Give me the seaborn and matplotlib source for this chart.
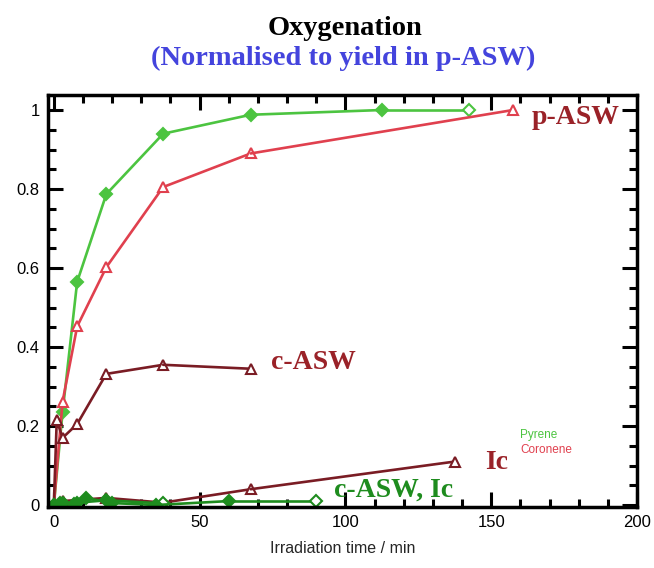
import numpy as np
import pandas as pd
import matplotlib
matplotlib.use("Agg")
import matplotlib.pyplot as plt
from matplotlib.ticker import MultipleLocator
import seaborn as sns

# data
pyr_p_x = [0, 3, 8, 18, 37.5, 67.5, 112.5, 142.5]
pyr_p_y = [0, 0.235, 0.565, 0.787, 0.94, 0.988, 1.0, 1.0]

cor_p_x = [0, 3, 8, 18, 37.5, 67.5, 157.5]
cor_p_y = [0, 0.262, 0.452, 0.602, 0.805, 0.89, 1.0]

cor_c_x = [0, 1, 3, 8, 18, 37.5, 67.5]
cor_c_y = [0, 0.215, 0.17, 0.205, 0.332, 0.355, 0.345]

cor_ic_x = [0, 3, 18, 37.5, 67.5, 137.5]
cor_ic_y = [0, 0.01, 0.018, 0.006, 0.04, 0.11]

pyr_c_x = [0, 3, 7, 11, 20, 35, 60, 90]
pyr_c_y = [0, 0.005, 0.003, 0.018, 0.005, 0.0, 0.01, 0.01]

pyr_ic_x = [0, 2, 8, 18, 37.5]
pyr_ic_y = [0, 0.004, 0.006, 0.012, 0.004]

light_green = "#4cc440"
dark_green = "#1e8c1e"
light_red = "#e0404e"
dark_red = "#7a1c24"

sns.set_style("ticks")
plt.rcParams['font.family'] = ['Liberation Sans', 'DejaVu Sans']

fig = plt.figure(figsize=(6.54, 5.68), dpi=100)
ax = fig.add_axes([48 / 654, 1 - 507 / 568, (637 - 48) / 654, (507 - 95) / 568])

series = [
    (pyr_p_x, pyr_p_y, light_green, "D", True),
    (cor_p_x, cor_p_y, light_red, "^", False),
    (cor_c_x, cor_c_y, dark_red, "^", False),
    (cor_ic_x, cor_ic_y, dark_red, "^", False),
    (pyr_ic_x, pyr_ic_y, dark_green, "D", True),
    (pyr_c_x, pyr_c_y, dark_green, "D", True),
]

for xs, ys, col, mk, filled in series:
    df = pd.DataFrame({"t": xs, "y": ys})
    sns.lineplot(data=df.iloc[:-1], x="t", y="y", ax=ax, color=col, lw=1.9,
                 marker=mk, markersize=6 if mk == "D" else 7,
                 markerfacecolor=col if filled else "white",
                 markeredgecolor=col, markeredgewidth=1.5)
    # last segment with open marker
    sns.lineplot(data=df.iloc[-2:], x="t", y="y", ax=ax, color=col, lw=1.9)
    ax.plot(xs[-1:], ys[-1:], ls="none", marker=mk,
            markersize=6 if mk == "D" else 7, markerfacecolor="white",
            markeredgecolor=col, markeredgewidth=1.5)

ax.set_xlim(-2, 200)
ax.set_ylim(-0.005, 1.038)
ax.xaxis.set_major_locator(MultipleLocator(50))
ax.xaxis.set_minor_locator(MultipleLocator(10))
ax.yaxis.set_major_locator(MultipleLocator(0.2))
ax.yaxis.set_minor_locator(MultipleLocator(0.05))
ax.set_yticks([0, 0.2, 0.4, 0.6, 0.8, 1.0])
ax.set_yticklabels(["0", "0.2", "0.4", "0.6", "0.8", "1"])
ax.tick_params(which="both", direction="in", top=True, right=True, width=2.2,
               labelsize=12, colors="black")
ax.tick_params(which="major", length=11, pad=6)
ax.tick_params(which="minor", length=6)
for s in ax.spines.values():
    s.set_linewidth(2.5)
    s.set_color("black")

ax.set_xlabel("Irradiation time / min", fontsize=11.5, labelpad=8)
ax.set_ylabel("")

serif = ['Liberation Serif', 'DejaVu Serif']
ax.text(164, 0.98, "p-ASW", color="#9a2228", fontsize=20, fontweight="bold", family=serif, va="center")
ax.text(74.5, 0.36, "c-ASW", color="#9a2228", fontsize=20, fontweight="bold", family=serif, va="center")
ax.text(148, 0.108, "Ic", color="#9a2228", fontsize=20, fontweight="bold", family=serif, va="center")
ax.text(96, 0.038, "c-ASW, Ic", color=dark_green, fontsize=20, fontweight="bold", family=serif, va="center")
ax.text(160, 0.17, "Pyrene", color=light_green, fontsize=8.5)
ax.text(160, 0.132, "Coronene", color=light_red, fontsize=8.5)

fig.text(345 / 654, 1 - 35 / 568, "Oxygenation", ha="center", va="baseline",
         fontsize=20.5, fontweight="bold", family=serif, color="black")
fig.text(343 / 654, 1 - 65 / 568, "(Normalised to yield in p-ASW)", ha="center", va="baseline",
         fontsize=20.5, fontweight="bold", family=serif, color="#4444dd")

fig.savefig("out.png", dpi=100)
